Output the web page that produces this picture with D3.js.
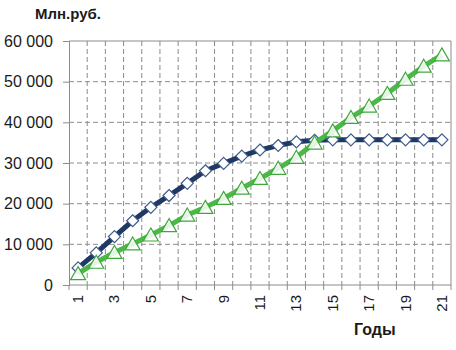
<!DOCTYPE html>
<html><head><meta charset="utf-8">
<script src="https://cdn.jsdelivr.net/npm/d3@7/dist/d3.min.js"></script>
<style>body{margin:0;background:#fff}svg{display:block;font-family:"Liberation Sans",Arial,sans-serif}</style>
</head><body>
<script>
const years = [1,2,3,4,5,6,7,8,9,10,11,12,13,14,15,16,17,18,19,20,21];
const seriesNavy = [4200,7900,11900,15800,19100,22000,25000,28100,29900,31700,33200,34300,35200,35600,35700,35700,35700,35700,35700,35700,35700];
const seriesGreen = [2800,5600,8000,10100,12300,14600,17200,19100,21300,23800,26200,28700,31400,34900,37900,41200,44000,47100,50600,53800,56600];
const yTicks = [0,10000,20000,30000,40000,50000,60000];
const xLabels = [1,3,5,7,9,11,13,15,17,19,21];
const yTitle = "Млн.руб.";
const xTitle = "Годы";

const W = 456, H = 350;
const pL = 69, pR = 451, pT = 41, pB = 285;
const svg = d3.select("body").append("svg").attr("width", W).attr("height", H);

const x = d3.scaleBand().domain(years).range([pL, pR]).padding(0);
const y = d3.scaleLinear().domain([0, 60000]).range([pB, pT]);
const cx = d => x(d) + x.bandwidth() / 2;
const loc = d3.formatLocale({decimal: ",", thousands: " ", grouping: [3], currency: ["", ""]});
const fmt = loc.format(",");

const gridColor = "#8c8c8c";
svg.append("g").selectAll("line").data(yTicks.filter(t => t > 0 && t < 60000)).join("line")
  .attr("x1", pL).attr("x2", pR).attr("y1", d => y(d)).attr("y2", d => y(d))
  .attr("stroke", gridColor).attr("stroke-width", 1).attr("stroke-dasharray", "5,3");
svg.append("g").selectAll("line").data(years.slice(1)).join("line")
  .attr("x1", d => x(d)).attr("x2", d => x(d)).attr("y1", pT).attr("y2", pB)
  .attr("stroke", gridColor).attr("stroke-width", 1).attr("stroke-dasharray", "5,3");
svg.append("line").attr("x1", pL).attr("x2", pR).attr("y1", pT).attr("y2", pT).attr("stroke", gridColor);
svg.append("line").attr("x1", pR).attr("x2", pR).attr("y1", pT).attr("y2", pB).attr("stroke", gridColor);

const yAxis = d3.axisLeft(y).tickValues(yTicks).tickSize(6).tickPadding(10).tickFormat(fmt);
const gy = svg.append("g").attr("transform", `translate(${pL},0)`).call(yAxis);
gy.select(".domain").attr("stroke", gridColor);
gy.selectAll(".tick line").attr("stroke", gridColor);
gy.selectAll("text").attr("font-size", 16).attr("fill", "#1a1a1a").attr("font-family", "Liberation Sans, Arial, sans-serif");

const gx = svg.append("g").attr("transform", `translate(0,${pB})`);
gx.append("line").attr("x1", pL).attr("x2", pR).attr("stroke", gridColor);
gx.selectAll("line.tk").data(years.concat([22])).join("line").attr("class", "tk")
  .attr("x1", d => d === 22 ? pR : x(d)).attr("x2", d => d === 22 ? pR : x(d))
  .attr("y1", 0).attr("y2", 5).attr("stroke", gridColor);
gx.selectAll("text").data(xLabels).join("text")
  .attr("transform", d => `translate(${cx(d) + 5},10) rotate(-90)`)
  .attr("text-anchor", "end").attr("font-size", 15).attr("fill", "#1a1a1a").text(d => d);

const line = d3.line().x((d, i) => cx(years[i])).y(d => y(d));
svg.append("path").datum(seriesNavy).attr("d", line).attr("fill", "none")
  .attr("stroke", "#1f3864").attr("stroke-width", 5).attr("stroke-linejoin", "round");
svg.append("g").selectAll("path").data(seriesNavy).join("path")
  .attr("d", "M0,-6L6,0L0,6L-6,0Z")
  .attr("transform", (d, i) => `translate(${cx(years[i])},${y(d)})`)
  .attr("fill", "#fff").attr("stroke", "#3d5a8a").attr("stroke-width", 1.2);

svg.append("path").datum(seriesGreen).attr("d", line).attr("fill", "none")
  .attr("stroke", "#4cb848").attr("stroke-width", 5).attr("stroke-linejoin", "round");
svg.append("g").selectAll("path").data(seriesGreen).join("path")
  .attr("d", "M0,-7L7.5,6L-7.5,6Z")
  .attr("transform", (d, i) => `translate(${cx(years[i])},${y(d)})`)
  .attr("fill", "#fff").attr("fill-opacity", 0.85).attr("stroke", "#3fa83b").attr("stroke-width", 1.2);

svg.append("text").attr("x", 35).attr("y", 19).attr("font-size", 15).attr("font-weight", "bold")
  .attr("fill", "#1a1a1a").text(yTitle);
svg.append("text").attr("x", 354).attr("y", 335).attr("font-size", 16).attr("font-weight", "bold")
  .attr("fill", "#1a1a1a").text(xTitle);
</script>
</body></html>
